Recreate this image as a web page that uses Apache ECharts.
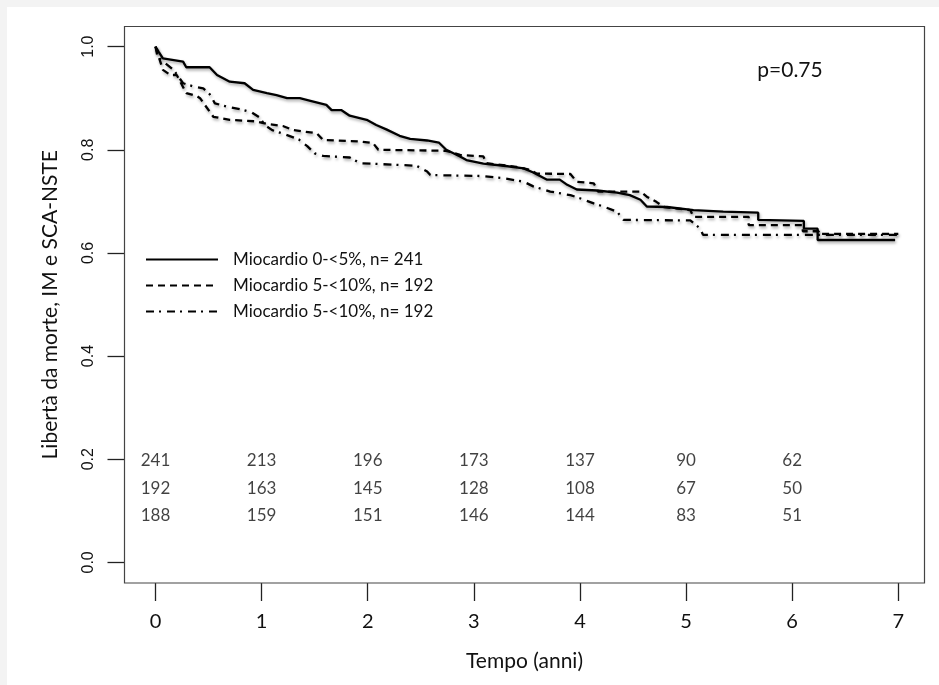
<!DOCTYPE html>
<html><head><meta charset="utf-8">
<script src="https://cdn.jsdelivr.net/npm/echarts@6/dist/echarts.min.js"></script>
<style>html,body{margin:0;padding:0;background:#f3f3f3}#c{width:939px;height:685px}</style>
</head><body><div id="c"></div>
<script>
// ---- data ----
const seriesNames = ['Miocardio 0-<5%, n= 241', 'Miocardio 5-<10%, n= 192', 'Miocardio 5-<10%, n= 192 '];

const solidT = [0,0.03,0.07,0.26,0.29,0.51,0.58,0.70,0.84,0.92,1.05,1.14,1.24,1.36,1.46,1.61,1.66,1.75,1.83,1.99,2.08,2.18,2.30,2.40,2.56,2.67,2.74,2.87,2.93,3.09,3.28,3.47,3.56,3.69,3.81,3.88,3.97,4.16,4.35,4.47,4.57,4.63,4.82,5.07,5.35,5.68,5.68,6.11,6.11,6.24,6.24,6.97];
const solidS = [1.000,0.990,0.977,0.971,0.960,0.960,0.945,0.932,0.929,0.916,0.910,0.906,0.900,0.900,0.895,0.887,0.877,0.877,0.866,0.858,0.848,0.839,0.827,0.821,0.818,0.814,0.800,0.787,0.780,0.773,0.769,0.764,0.756,0.742,0.742,0.732,0.723,0.721,0.717,0.712,0.703,0.690,0.689,0.683,0.680,0.678,0.664,0.662,0.647,0.647,0.625,0.625];

const dashT = [0,0.07,0.14,0.20,0.29,0.39,0.42,0.545,0.70,0.95,1.05,1.20,1.30,1.52,1.58,1.93,2.05,2.10,2.74,2.87,3.09,3.12,3.40,3.53,3.59,3.91,3.97,4.13,4.17,4.57,4.63,4.72,4.79,5.04,5.07,5.59,5.59,6.10,6.10,6.25,6.25,7.00];
const dashS = [1.000,0.955,0.945,0.945,0.910,0.904,0.900,0.864,0.858,0.855,0.850,0.846,0.838,0.832,0.819,0.816,0.813,0.800,0.798,0.790,0.787,0.774,0.767,0.761,0.754,0.753,0.738,0.735,0.719,0.719,0.709,0.699,0.689,0.683,0.670,0.670,0.654,0.654,0.642,0.642,0.637,0.637];

const dotdashT = [0,0.02,0.17,0.26,0.37,0.45,0.51,0.56,0.67,0.83,0.91,0.985,1.03,1.10,1.19,1.35,1.43,1.50,1.58,1.83,1.93,2.46,2.56,2.59,3.09,3.28,3.47,3.56,3.72,3.91,4.00,4.13,4.22,4.35,4.41,5.04,5.13,5.16,7.00];
const dotdashS = [1.000,0.980,0.955,0.929,0.922,0.919,0.908,0.890,0.884,0.877,0.872,0.862,0.848,0.838,0.832,0.820,0.807,0.793,0.788,0.785,0.774,0.769,0.758,0.751,0.749,0.745,0.738,0.729,0.719,0.712,0.706,0.696,0.690,0.680,0.664,0.663,0.648,0.635,0.635];

// numbers at risk
const riskTimes = [0,1,2,3,4,5,6];
const riskRow1 = [241,213,196,173,137,90,62];
const riskRow2 = [192,163,145,128,108,67,50];
const riskRow3 = [188,159,151,146,144,83,51];
const riskRowY = [0.197,0.143,0.091];

const xTicks = [0,1,2,3,4,5,6,7];
const yTicks = [0,0.2,0.4,0.6,0.8,1.0];

// ---- build ----
const zip = (a,b) => a.map((v,i)=>[v,b[i]]);
const shadow = {shadowBlur:3, shadowColor:'rgba(0,0,0,0.35)', shadowOffsetX:1, shadowOffsetY:2};
const FONT = 'Lato, "Open Sans", sans-serif';

function curve(name, data, type){
  return {
    name, type:'line', data, symbol:'none', showSymbol:false, clip:false,
    lineStyle:Object.assign({color:'#000', width:2.3, type, cap:'butt'}, shadow),
    itemStyle:{color:'#000'}, silent:true, z:5
  };
}
function riskSeries(row, y){
  return {
    type:'scatter', symbolSize:0.01, silent:true, z:6,
    data: riskTimes.map((t,i)=>[t, y, row[i]]),
    label:{show:true, position:'inside', formatter:p=>String(p.value[2]),
      fontSize:17, color:'#111', fontFamily:FONT}
  };
}

const chart = echarts.init(document.getElementById('c'), null, {renderer:'canvas'});
chart.setOption({
  animation:false,
  backgroundColor:'transparent',
  grid:{left:124.5, right:14.5, top:26.5, bottom:102, containLabel:false},
  xAxis:{
    type:'value', min:-0.292, max:7.247, offset:18,
    axisLine:{show:false, onZero:false},
    axisTick:{show:true, inside:true, length:18, customValues:xTicks, lineStyle:{color:'#222', width:1.3}},
    axisLabel:{margin:11, fontSize:20, color:'#111', fontFamily:FONT, customValues:xTicks,
      formatter:v=>String(v)},
    splitLine:{show:false},
    name:'Tempo (anni)', nameLocation:'middle', nameGap:50,
    nameTextStyle:{fontSize:21, color:'#111', fontFamily:FONT}
  },
  yAxis:{
    type:'value', min:-0.04, max:1.039, offset:17,
    axisLine:{show:false, onZero:false},
    axisTick:{show:true, inside:true, length:17, customValues:yTicks, lineStyle:{color:'#222', width:1.3}},
    axisLabel:{rotate:90, margin:11, fontSize:16, color:'#111', customValues:yTicks,
      fontFamily:'"Liberation Sans Narrow", "Liberation Sans", sans-serif',
      formatter:v=>v.toFixed(1)},
    splitLine:{show:false},
    name:'Libertà da morte, IM e SCA-NSTE', nameLocation:'middle', nameGap:47, nameRotate:90,
    nameTextStyle:{fontSize:21, color:'#111', fontFamily:FONT}
  },
  legend:{
    data:seriesNames, orient:'vertical', left:140, top:246,
    itemWidth:72, itemHeight:14, itemGap:9, selectedMode:false,
    itemStyle:{color:'transparent', opacity:0, borderWidth:0},
    textStyle:{fontSize:17, color:'#111', fontFamily:FONT, padding:[0,0,0,10]}
  },
  graphic:[
    {type:'rect', z:-10, silent:true, shape:{x:7, y:7, width:932, height:678}, style:{fill:'#ffffff'}},
    {type:'rect', z:1, silent:true, shape:{x:124.5, y:26.5, width:800, height:556.5},
      style:{fill:null, stroke:'#444', lineWidth:1.2}},
    {type:'text', z:10, silent:true, x:790, y:70,
      style:{text:'p=0.75', fontSize:21, fill:'#111', fontFamily:FONT, textAlign:'center', textVerticalAlign:'middle'}}
  ],
  series:[
    curve(seriesNames[0], zip(solidT, solidS), 'solid'),
    curve(seriesNames[1], zip(dashT, dashS), [7,5]),
    curve(seriesNames[2], zip(dotdashT, dotdashS), [8,5,2,6]),
    riskSeries(riskRow1, riskRowY[0]),
    riskSeries(riskRow2, riskRowY[1]),
    riskSeries(riskRow3, riskRowY[2])
  ]
});
</script></body></html>
